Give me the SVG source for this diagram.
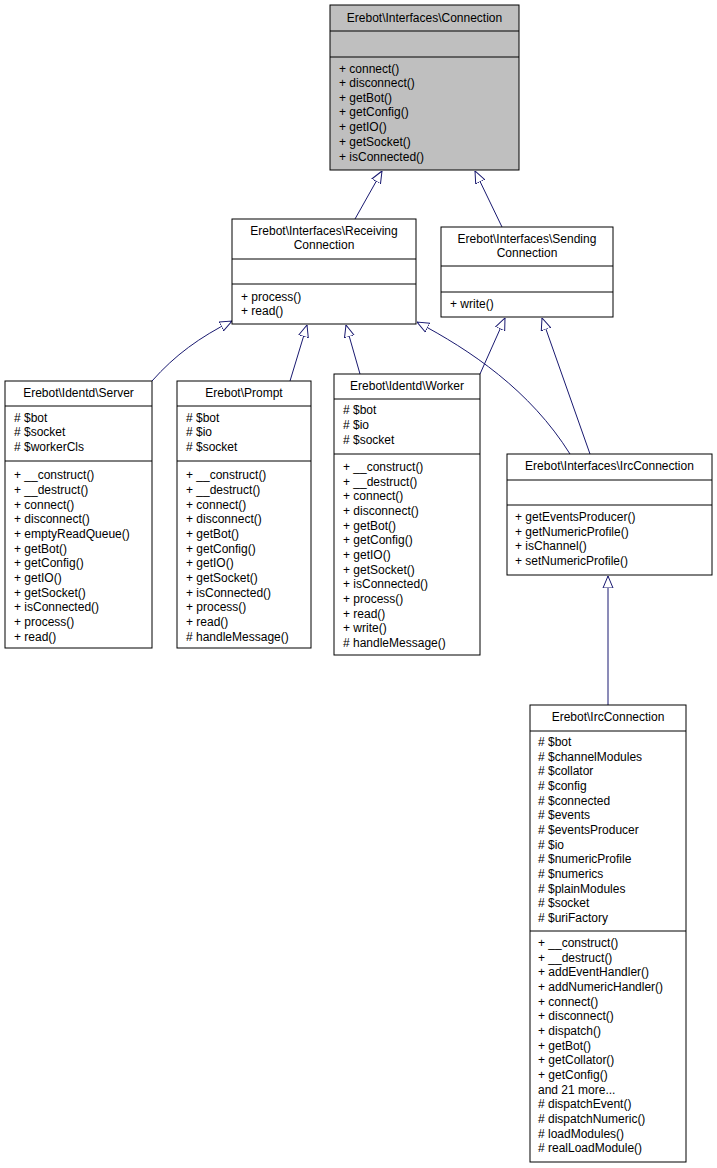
<svg xmlns="http://www.w3.org/2000/svg" width="717" height="1168" viewBox="0 0 717 1168">
<defs>
<style>
text{font-family:"Liberation Sans",Arial,sans-serif;font-size:12px;fill:#000}
.t{text-anchor:middle}
rect{fill:#fff;stroke:#000;stroke-width:1}
rect.bg{stroke:none}
.g{fill:#bfbfbf}
line.s{stroke:#000;stroke-width:1}
.e path{fill:none;stroke:#191970;stroke-width:1}
</style>
<marker id="a" viewBox="0 0 12 12" refX="12" refY="6" markerWidth="12" markerHeight="12" orient="auto" markerUnits="userSpaceOnUse"><path d="M0,1 L12,6 L0,11 Z" fill="#fff" stroke="#191970"/></marker>
</defs>
<rect class="bg" width="717" height="1168"/>
<g class="e">
<path d="M355,219 L382,171" marker-end="url(#a)"/>
<path d="M502,227 L475,171" marker-end="url(#a)"/>
<path d="M152,381 C175,355 200,337 232,321" marker-end="url(#a)"/>
<path d="M290,381 L307,325" marker-end="url(#a)"/>
<path d="M360,374 L346,325" marker-end="url(#a)"/>
<path d="M570,454 C530,390 470,350 417,322" marker-end="url(#a)"/>
<path d="M480,374 L505,318" marker-end="url(#a)"/>
<path d="M590,454 L542,318" marker-end="url(#a)"/>
<path d="M608,705 L608,576" marker-end="url(#a)"/>
</g>
<g id="connection">
<rect class="g" x="330" y="5" width="189" height="165"/>
<line class="s" x1="330" y1="31" x2="519" y2="31"/><line class="s" x1="330" y1="57" x2="519" y2="57"/>
<text class="t" x="424.5" y="22">Erebot\Interfaces\Connection</text>
<text x="339" y="73">+ connect()</text><text x="339" y="87">+ disconnect()</text><text x="339" y="102">+ getBot()</text><text x="339" y="116">+ getConfig()</text><text x="339" y="131">+ getIO()</text><text x="339" y="146">+ getSocket()</text><text x="339" y="161">+ isConnected()</text>
</g>
<g id="receiving">
<rect x="232" y="219" width="184" height="105"/>
<line class="s" x1="232" y1="259" x2="416" y2="259"/><line class="s" x1="232" y1="284" x2="416" y2="284"/>
<text class="t" x="324" y="235">Erebot\Interfaces\Receiving</text><text class="t" x="324" y="249">Connection</text>
<text x="241" y="301">+ process()</text><text x="241" y="315">+ read()</text>
</g>
<g id="sending">
<rect x="441" y="227" width="172" height="90"/>
<line class="s" x1="441" y1="266" x2="613" y2="266"/><line class="s" x1="441" y1="292" x2="613" y2="292"/>
<text class="t" x="527" y="243">Erebot\Interfaces\Sending</text><text class="t" x="527" y="257">Connection</text>
<text x="450" y="308">+ write()</text>
</g>
<g id="server">
<rect x="5" y="381" width="147" height="267"/>
<line class="s" x1="5" y1="406" x2="152" y2="406"/><line class="s" x1="5" y1="461" x2="152" y2="461"/>
<text class="t" x="78.5" y="397">Erebot\Identd\Server</text>
<text x="14" y="422">#  $bot</text><text x="14" y="436">#  $socket</text><text x="14" y="451">#  $workerCls</text>
<text x="14" y="479">+  __construct()</text><text x="14" y="494">+  __destruct()</text><text x="14" y="509">+  connect()</text><text x="14" y="523">+  disconnect()</text><text x="14" y="538">+  emptyReadQueue()</text><text x="14" y="553">+  getBot()</text><text x="14" y="567">+  getConfig()</text><text x="14" y="582">+  getIO()</text><text x="14" y="597">+  getSocket()</text><text x="14" y="611">+  isConnected()</text><text x="14" y="626">+  process()</text><text x="14" y="641">+  read()</text>
</g>
<g id="prompt">
<rect x="177" y="381" width="134" height="267"/>
<line class="s" x1="177" y1="406" x2="311" y2="406"/><line class="s" x1="177" y1="461" x2="311" y2="461"/>
<text class="t" x="244" y="397">Erebot\Prompt</text>
<text x="186" y="422">#  $bot</text><text x="186" y="436">#  $io</text><text x="186" y="451">#  $socket</text>
<text x="186" y="479">+  __construct()</text><text x="186" y="494">+  __destruct()</text><text x="186" y="509">+  connect()</text><text x="186" y="523">+  disconnect()</text><text x="186" y="538">+  getBot()</text><text x="186" y="553">+  getConfig()</text><text x="186" y="567">+  getIO()</text><text x="186" y="582">+  getSocket()</text><text x="186" y="597">+  isConnected()</text><text x="186" y="611">+  process()</text><text x="186" y="626">+  read()</text><text x="186" y="641">#  handleMessage()</text>
</g>
<g id="worker">
<rect x="334" y="374" width="146" height="281"/>
<line class="s" x1="334" y1="399" x2="480" y2="399"/><line class="s" x1="334" y1="454" x2="480" y2="454"/>
<text class="t" x="407" y="390">Erebot\Identd\Worker</text>
<text x="343" y="414">#  $bot</text><text x="343" y="429">#  $io</text><text x="343" y="444">#  $socket</text>
<text x="343" y="471">+  __construct()</text><text x="343" y="486">+  __destruct()</text><text x="343" y="500">+  connect()</text><text x="343" y="515">+  disconnect()</text><text x="343" y="530">+  getBot()</text><text x="343" y="544">+  getConfig()</text><text x="343" y="559">+  getIO()</text><text x="343" y="574">+  getSocket()</text><text x="343" y="588">+  isConnected()</text><text x="343" y="603">+  process()</text><text x="343" y="618">+  read()</text><text x="343" y="632">+  write()</text><text x="343" y="647">#  handleMessage()</text>
</g>
<g id="ircinterface">
<rect x="507" y="454" width="205" height="121"/>
<line class="s" x1="507" y1="480" x2="712" y2="480"/><line class="s" x1="507" y1="505" x2="712" y2="505"/>
<text class="t" x="609.5" y="470">Erebot\Interfaces\IrcConnection</text>
<text x="515" y="521">+ getEventsProducer()</text><text x="515" y="536">+ getNumericProfile()</text><text x="515" y="550">+ isChannel()</text><text x="515" y="565">+ setNumericProfile()</text>
</g>
<g id="ircconnection">
<rect x="530" y="705" width="156" height="457"/>
<line class="s" x1="530" y1="731" x2="686" y2="731"/><line class="s" x1="530" y1="931" x2="686" y2="931"/>
<text class="t" x="608" y="721">Erebot\IrcConnection</text>
<text x="538" y="746">#  $bot</text><text x="538" y="761">#  $channelModules</text><text x="538" y="775">#  $collator</text><text x="538" y="790">#  $config</text><text x="538" y="805">#  $connected</text><text x="538" y="819">#  $events</text><text x="538" y="834">#  $eventsProducer</text><text x="538" y="849">#  $io</text><text x="538" y="863">#  $numericProfile</text><text x="538" y="878">#  $numerics</text><text x="538" y="893">#  $plainModules</text><text x="538" y="907">#  $socket</text><text x="538" y="922">#  $uriFactory</text>
<text x="538" y="947">+  __construct()</text><text x="538" y="962">+  __destruct()</text><text x="538" y="976">+  addEventHandler()</text><text x="538" y="991">+  addNumericHandler()</text><text x="538" y="1006">+  connect()</text><text x="538" y="1020">+  disconnect()</text><text x="538" y="1035">+  dispatch()</text><text x="538" y="1050">+  getBot()</text><text x="538" y="1064">+  getCollator()</text><text x="538" y="1079">+  getConfig()</text><text x="538" y="1094">and 21 more...</text><text x="538" y="1108">#  dispatchEvent()</text><text x="538" y="1123">#  dispatchNumeric()</text><text x="538" y="1138">#  loadModules()</text><text x="538" y="1152">#  realLoadModule()</text>
</g>
</svg>
